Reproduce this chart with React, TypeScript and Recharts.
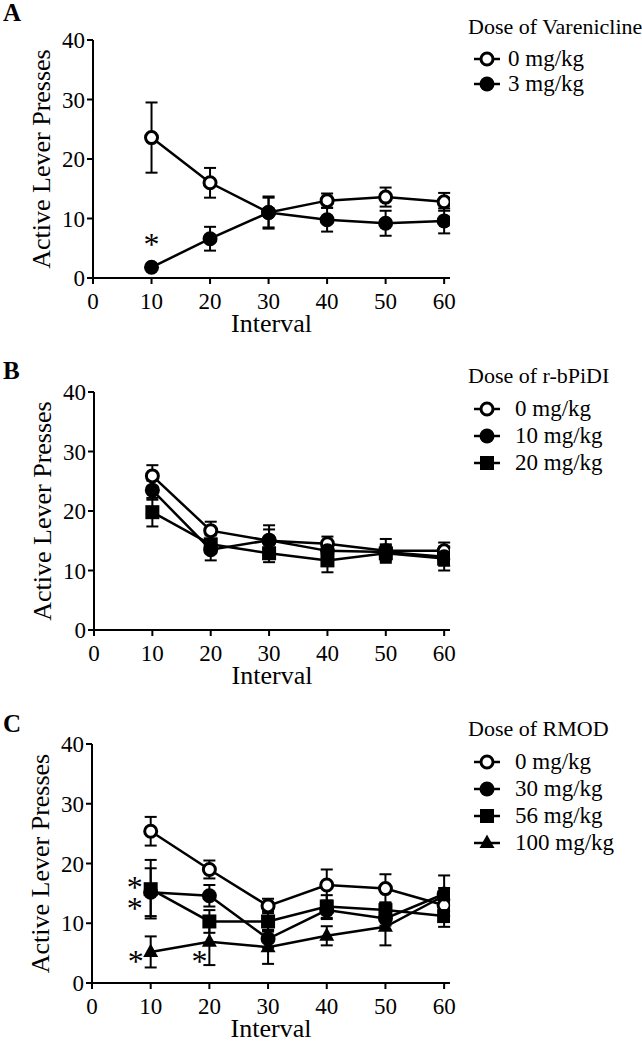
import React from "react";
import { LineChart, Line, XAxis, YAxis, ErrorBar, Legend, ReferenceDot } from "recharts";

const FONT = "Liberation Serif, Tinos, Times New Roman, DejaVu Serif, serif";

const intervals = [10, 20, 30, 40, 50, 60];
const xTicks = [0, 10, 20, 30, 40, 50, 60];
const yTicks = [0, 10, 20, 30, 40];

// Panel A - varenicline
const vareniclineLabels = ["0 mg/kg", "3 mg/kg"];
const varenicline0 = [23.6, 16.0, 11.0, 13.0, 13.6, 12.8];
const varenicline0Sem = [5.9, 2.5, 2.7, 1.2, 1.6, 1.5];
const varenicline3 = [1.8, 6.6, 11.0, 9.8, 9.2, 9.6];
const varenicline3Sem = [0.3, 2.0, 2.5, 2.0, 2.1, 2.1];

// Panel B - r-bPiDI
const bpidiLabels = ["0 mg/kg", "10 mg/kg", "20 mg/kg"];
const bpidi0 = [25.9, 16.7, 15.0, 14.5, 13.3, 13.3];
const bpidi0Sem = [1.8, 1.5, 2.6, 1.2, 2.0, 1.4];
const bpidi10 = [23.5, 13.5, 15.1, 13.3, 13.1, 12.3];
const bpidi10Sem = [1.6, 1.8, 1.8, 1.2, 1.3, 1.5];
const bpidi20 = [19.8, 14.4, 12.9, 11.7, 12.9, 12.0];
const bpidi20Sem = [2.4, 1.5, 1.5, 2.0, 1.3, 2.0];

// Panel C - RMOD
const rmodLabels = ["0 mg/kg", "30 mg/kg", "56 mg/kg", "100 mg/kg"];
const rmod0 = [25.4, 19.0, 12.9, 16.4, 15.8, 13.0];
const rmod0Sem = [2.4, 1.5, 1.2, 2.6, 2.4, 1.0];
const rmod30 = [15.2, 14.6, 7.4, 12.2, 10.8, 14.9];
const rmod30Sem = [4.0, 1.8, 1.5, 1.5, 1.2, 1.0];
const rmod56 = [15.7, 10.3, 10.3, 12.8, 12.2, 11.2];
const rmod56Sem = [4.9, 1.9, 1.7, 1.9, 1.3, 1.8];
const rmod100 = [5.2, 6.9, 6.0, 7.9, 9.4, 14.6];
const rmod100Sem = [2.6, 3.9, 2.8, 1.6, 3.1, 3.4];

type Shape = "open" | "filled" | "square" | "triangle";
type Series = { name: string; shape: Shape; values: number[]; sem: number[] };
type Star = { x: number; y: number; dx: number };

function Marker({ cx, cy, shape }: { cx?: number; cy?: number; shape: Shape }) {
  if (cx == null || cy == null) return null;
  if (shape === "open") return <circle cx={cx} cy={cy} r={6} fill="#fff" stroke="#000" strokeWidth={3} />;
  if (shape === "filled") return <circle cx={cx} cy={cy} r={7.5} fill="#000" />;
  if (shape === "square") return <rect x={cx - 7} y={cy - 7} width={14} height={14} fill="#000" />;
  return <polygon points={`${cx},${cy - 8.5} ${cx - 7.5},${cy + 5} ${cx + 7.5},${cy + 5}`} fill="#000" />;
}

function Panel(props: {
  letter: string;
  letterTop: number;
  title: string;
  series: Series[];
  stars: Star[];
  top: number;
  plotLeft: number;
  plotHeight: number;
  legendTop: number;
  rowHeight: number;
  textGap: number;
}) {
  const { letter, letterTop, title, series, stars, top, plotLeft, plotHeight, legendTop, rowHeight, textGap } = props;
  const rows = intervals.map((x, i) => {
    const row: Record<string, number> = { x };
    series.forEach((s, k) => {
      row[`s${k}`] = s.values[i];
      row[`e${k}`] = s.sem[i];
    });
    return row;
  });
  const width = 642;
  const height = 40 + plotHeight + 64;

  // keep the legend in series order (recharts sorts by name otherwise)
  const legendContent = (p: any) => {
    const items = [...(p.payload || [])].sort(
      (a: any, b: any) => Number(String(a.dataKey).slice(1)) - Number(String(b.dataKey).slice(1))
    );
    return (
      <div style={{ fontFamily: FONT, color: "#000" }}>
        <div style={{ fontSize: 22, lineHeight: "26px", whiteSpace: "nowrap" }}>{title}</div>
        <div style={{ height: 6 }} />
        {items.map((item: any) => {
          const s = series[Number(String(item.dataKey).slice(1))];
          return (
            <div key={item.value} style={{ display: "flex", alignItems: "center", height: rowHeight, marginLeft: 5 }}>
              <svg width={28} height={20} style={{ flex: "none" }}>
                <line x1={1} y1={10} x2={27} y2={10} stroke="#000" strokeWidth={2.5} />
                <Marker cx={14} cy={10} shape={s.shape} />
              </svg>
              <span style={{ marginLeft: textGap, fontSize: 23, whiteSpace: "nowrap" }}>{item.value}</span>
            </div>
          );
        })}
      </div>
    );
  };

  return (
    <div style={{ position: "absolute", left: 0, top, width, height }}>
      <div
        style={{
          position: "absolute",
          left: 3,
          top: letterTop,
          fontFamily: FONT,
          fontWeight: "bold",
          fontSize: 25,
          lineHeight: "25px",
          color: "#000",
        }}
      >
        {letter}
      </div>
      <LineChart
        width={width}
        height={height}
        data={rows}
        margin={{ top: 40, right: 642 - 450, bottom: 0, left: plotLeft - 60 }}
      >
        <XAxis
          dataKey="x"
          type="number"
          domain={[0, 61]}
          ticks={xTicks}
          allowDataOverflow
          height={64}
          tickSize={6}
          tickMargin={9}
          axisLine={{ stroke: "#000", strokeWidth: 2 }}
          tickLine={{ stroke: "#000", strokeWidth: 2 }}
          tick={{ fill: "#000", fontSize: 23, fontFamily: FONT }}
          label={(lp: any) => {
            const vb = lp.viewBox;
            return (
              <text
                x={vb.x + vb.width / 2}
                y={vb.y + 45}
                textAnchor="middle"
                dominantBaseline="central"
                fontSize={26}
                fontFamily={FONT}
                fill="#000"
              >
                Interval
              </text>
            );
          }}
        />
        <YAxis
          type="number"
          domain={[0, 40]}
          ticks={yTicks}
          width={60}
          tickSize={6}
          tickMargin={2}
          axisLine={{ stroke: "#000", strokeWidth: 2 }}
          tickLine={{ stroke: "#000", strokeWidth: 2 }}
          tick={{ fill: "#000", fontSize: 23, fontFamily: FONT }}
          label={(lp: any) => {
            const vb = lp.viewBox;
            const cx = vb.x + vb.width - 52;
            const cy = vb.y + vb.height / 2;
            return (
              <text
                x={cx}
                y={cy}
                transform={`rotate(-90 ${cx} ${cy})`}
                textAnchor="middle"
                dominantBaseline="central"
                fontSize={26}
                fontFamily={FONT}
                fill="#000"
              >
                Active Lever Presses
              </text>
            );
          }}
        />
        <Legend
          layout="vertical"
          align="center"
          verticalAlign="middle"
          content={legendContent}
          wrapperStyle={{ position: "absolute", left: 468, top: legendTop, width: 174 }}
        />
        {series.map((s, k) => (
          <Line
            key={s.name}
            name={s.name}
            dataKey={`s${k}`}
            stroke="#000"
            strokeWidth={2.5}
            isAnimationActive={false}
            activeDot={false}
            dot={(dp: any) => <Marker key={`${s.shape}-${dp.index}`} cx={dp.cx} cy={dp.cy} shape={s.shape} />}
          >
            <ErrorBar dataKey={`e${k}`} width={6} strokeWidth={2} stroke="#000" direction="y" isAnimationActive={false} />
          </Line>
        ))}
        {stars.map((st, k) => (
          <ReferenceDot
            key={`star-${k}`}
            x={st.x}
            y={st.y}
            r={0}
            shape={(sp: any) => (
              <text
                x={sp.cx + st.dx}
                y={sp.cy + 15}
                textAnchor="middle"
                fontSize={32}
                fontFamily={FONT}
                fill="#000"
              >
                *
              </text>
            )}
          />
        ))}
      </LineChart>
    </div>
  );
}

export default function App() {
  const seriesA: Series[] = [
    { name: vareniclineLabels[0], shape: "open", values: varenicline0, sem: varenicline0Sem },
    { name: vareniclineLabels[1], shape: "filled", values: varenicline3, sem: varenicline3Sem },
  ];
  const seriesB: Series[] = [
    { name: bpidiLabels[0], shape: "open", values: bpidi0, sem: bpidi0Sem },
    { name: bpidiLabels[1], shape: "filled", values: bpidi10, sem: bpidi10Sem },
    { name: bpidiLabels[2], shape: "square", values: bpidi20, sem: bpidi20Sem },
  ];
  const seriesC: Series[] = [
    { name: rmodLabels[0], shape: "open", values: rmod0, sem: rmod0Sem },
    { name: rmodLabels[1], shape: "filled", values: rmod30, sem: rmod30Sem },
    { name: rmodLabels[2], shape: "square", values: rmod56, sem: rmod56Sem },
    { name: rmodLabels[3], shape: "triangle", values: rmod100, sem: rmod100Sem },
  ];
  const starsA: Star[] = [{ x: 10, y: 6.4, dx: 0 }];
  const starsC: Star[] = [
    { x: 10, y: 16.7, dx: -16 },
    { x: 10, y: 13.3, dx: -16 },
    { x: 10, y: 4.4, dx: -15 },
    { x: 20, y: 4.3, dx: -10 },
  ];

  return (
    <div style={{ position: "absolute", left: 0, top: 0, width: 642, height: 1041, background: "#fff", overflow: "hidden" }}>
      <Panel letter="A" letterTop={0} title="Dose of Varenicline" series={seriesA} stars={starsA} top={0} plotLeft={93} plotHeight={238} legendTop={14} rowHeight={25} textGap={7} />
      <Panel letter="B" letterTop={6} title="Dose of r-bPiDI" series={seriesB} stars={[]} top={352} plotLeft={94} plotHeight={238} legendTop={11} rowHeight={27} textGap={14} />
      <Panel letter="C" letterTop={7} title="Dose of RMOD" series={seriesC} stars={starsC} top={704} plotLeft={92} plotHeight={239} legendTop={12} rowHeight={27} textGap={14} />
    </div>
  );
}
